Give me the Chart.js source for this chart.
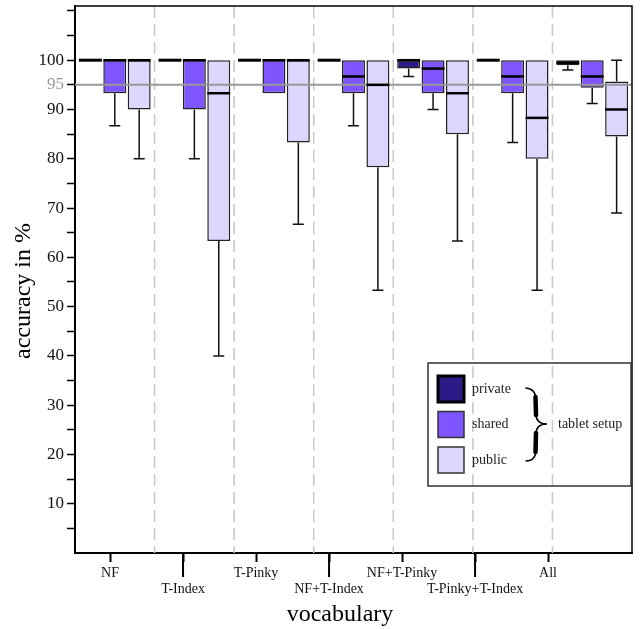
<!DOCTYPE html>
<html>
<head>
<meta charset="utf-8">
<title>accuracy by vocabulary</title>
<script src="https://cdn.jsdelivr.net/npm/chart.js@4.4.1/dist/chart.umd.min.js"></script>
<style>
  html, body { margin: 0; padding: 0; background: #fff; }
  #wrap { width: 641px; height: 629px; }
</style>
</head>
<body>
<div id="wrap"><canvas id="myChart" width="641" height="629"></canvas></div>
<script>
const categories = ["NF", "T-Index", "T-Pinky", "NF+T-Index", "NF+T-Pinky", "T-Pinky+T-Index", "All"];
const setups = ["private", "shared", "public"];
const setupColors = ["#2e1a87", "#7f55ff", "#ddd6ff"];

// box plot values per tablet setup (accuracy in %)
const privateMin = [100, 100, 100, 100, 96.7, 100, 98];
const privateQ1 = [100, 100, 100, 100, 98.3, 100, 99];
const privateMedian = [100, 100, 100, 100, 100, 100, 99.5];
const privateQ3 = [100, 100, 100, 100, 100, 100, 100];
const privateMax = [100, 100, 100, 100, 100, 100, 100];

const sharedMin = [86.7, 80, 93.3, 86.7, 90, 83.3, 91.2];
const sharedQ1 = [93.3, 90, 93.3, 93.3, 93.3, 93.3, 94.4];
const sharedMedian = [100, 100, 100, 96.7, 98.3, 96.7, 96.7];
const sharedQ3 = [100, 100, 100, 100, 100, 100, 100];
const sharedMax = [100, 100, 100, 100, 100, 100, 100];

const publicMin = [80, 40, 66.7, 53.3, 63.3, 53.3, 69];
const publicQ1 = [90, 63.3, 83.3, 78.3, 85, 80, 84.5];
const publicMedian = [100, 93.3, 100, 95, 93.3, 88.3, 90];
const publicQ3 = [100, 100, 100, 100, 100, 100, 95.7];
const publicMax = [100, 100, 100, 100, 100, 100, 100];

const yTickValues = [5, 10, 15, 20, 25, 30, 35, 40, 45, 50, 55, 60, 65, 70, 75, 80, 85, 90, 95, 100, 105, 110];
const yLabelValues = [10, 20, 30, 40, 50, 60, 70, 80, 90, 95, 100];
const refLine = 95;

const stats = [
  { min: privateMin, q1: privateQ1, med: privateMedian, q3: privateQ3, max: privateMax },
  { min: sharedMin, q1: sharedQ1, med: sharedMedian, q3: sharedQ3, max: sharedMax },
  { min: publicMin, q1: publicQ1, med: publicMedian, q3: publicQ3, max: publicMax }
];

const serif = "'Liberation Serif', 'DejaVu Serif', serif";

const boxExtras = {
  id: "boxExtras",
  beforeDatasetsDraw(chart) {
    const { ctx, chartArea: a, scales: { x } } = chart;
    ctx.save();
    ctx.strokeStyle = "#c8c8c8";
    ctx.lineWidth = 1.5;
    ctx.setLineDash([12, 6]);
    for (let i = 1; i < categories.length; i++) {
      const px = (x.getPixelForValue(i - 1) + x.getPixelForValue(i)) / 2;
      ctx.beginPath();
      ctx.moveTo(px, a.top);
      ctx.lineTo(px, a.bottom);
      ctx.stroke();
    }
    ctx.restore();
  },
  afterDatasetsDraw(chart) {
    const { ctx, chartArea: a, scales: { y } } = chart;
    ctx.save();
    // 95% reference line
    ctx.strokeStyle = "#999";
    ctx.lineWidth = 2;
    ctx.beginPath();
    ctx.moveTo(a.left, y.getPixelForValue(refLine));
    ctx.lineTo(a.right, y.getPixelForValue(refLine));
    ctx.stroke();

    // whiskers and medians
    stats.forEach((s, d) => {
      const meta = chart.getDatasetMeta(d);
      meta.data.forEach((bar, i) => {
        const cx = bar.x;
        const half = bar.width / 2;
        ctx.strokeStyle = "#111";
        ctx.lineWidth = 1.5;
        if (s.min[i] < s.q1[i]) {
          const y1 = y.getPixelForValue(s.q1[i]);
          const y2 = y.getPixelForValue(s.min[i]);
          ctx.beginPath();
          ctx.moveTo(cx, y1); ctx.lineTo(cx, y2);
          ctx.moveTo(cx - 5.5, y2); ctx.lineTo(cx + 5.5, y2);
          ctx.stroke();
        }
        if (s.max[i] > s.q3[i]) {
          const y1 = y.getPixelForValue(s.q3[i]);
          const y2 = y.getPixelForValue(s.max[i]);
          ctx.beginPath();
          ctx.moveTo(cx, y1); ctx.lineTo(cx, y2);
          ctx.moveTo(cx - 5.5, y2); ctx.lineTo(cx + 5.5, y2);
          ctx.stroke();
        }
        const collapsed = s.q1[i] === s.q3[i];
        ctx.strokeStyle = "#000";
        ctx.lineWidth = collapsed ? 3 : 2.5;
        const ym = y.getPixelForValue(s.med[i]);
        ctx.beginPath();
        ctx.moveTo(cx - half, ym);
        ctx.lineTo(cx + half, ym);
        ctx.stroke();
      });
    });
    ctx.restore();
  },
  afterDraw(chart) {
    const { ctx, chartArea: a, scales: { xl } } = chart;
    ctx.save();
    // frame top and right
    ctx.strokeStyle = "#000";
    ctx.lineWidth = 1.5;
    ctx.beginPath();
    ctx.moveTo(a.left, a.top);
    ctx.lineTo(a.right, a.top);
    ctx.lineTo(a.right, a.bottom);
    ctx.stroke();

    // longer ticks under the lower labels
    ctx.lineWidth = 2;
    categories.forEach((c, i) => {
      if (i % 2 === 1) {
        const px = xl.getPixelForValue(i);
        ctx.beginPath();
        ctx.moveTo(px, a.bottom);
        ctx.lineTo(px, a.bottom + 24);
        ctx.stroke();
      }
    });

    // legend
    const lx = a.right - 204, ly = a.bottom - 190;
    ctx.strokeStyle = "#333";
    ctx.lineWidth = 1.5;
    ctx.strokeRect(lx, ly, 203, 123);
    ctx.font = "14px " + serif;
    ctx.textBaseline = "middle";
    ctx.textAlign = "left";
    setups.forEach((name, i) => {
      const sy = ly + 13 + i * 35.5;
      ctx.fillStyle = setupColors[i];
      ctx.fillRect(lx + 10, sy, 26, 26);
      ctx.strokeStyle = i === 0 ? "#000" : "#333";
      ctx.lineWidth = i === 0 ? 3 : 1.5;
      ctx.strokeRect(lx + 10, sy, 26, 26);
      ctx.fillStyle = "#222";
      ctx.fillText(name, lx + 44, sy + 13);
    });

    // curly brace grouping the three setups
    const bx = lx + 98, by = ly + 25, mid = ly + 61;
    ctx.strokeStyle = "#000";
    ctx.lineCap = "round";
    ctx.lineWidth = 1.5;
    ctx.beginPath();
    ctx.moveTo(bx, by);
    ctx.quadraticCurveTo(bx + 10, by + 1, bx + 10, by + 12);
    ctx.lineTo(bx + 10, mid - 10);
    ctx.quadraticCurveTo(bx + 10, mid, bx + 21, mid);
    ctx.quadraticCurveTo(bx + 10, mid, bx + 10, mid + 10);
    ctx.lineTo(bx + 10, mid + 25);
    ctx.quadraticCurveTo(bx + 10, mid + 37, bx, mid + 37);
    ctx.stroke();
    ctx.lineWidth = 4.5;
    ctx.beginPath();
    ctx.moveTo(bx + 9.5, by + 9);
    ctx.lineTo(bx + 10, mid - 9);
    ctx.moveTo(bx + 10, mid + 9);
    ctx.lineTo(bx + 9.5, mid + 28);
    ctx.stroke();

    ctx.font = "14px " + serif;
    ctx.textAlign = "left";
    ctx.fillStyle = "#222";
    ctx.fillText("tablet setup", lx + 130, mid);

    // axis titles
    ctx.fillStyle = "#000";
    ctx.font = "24px " + serif;
    ctx.textAlign = "center";
    ctx.textBaseline = "alphabetic";
    ctx.fillText("vocabulary", 340, 621);
    ctx.translate(30, 291);
    ctx.rotate(-Math.PI / 2);
    ctx.fillText("accuracy in %", 0, 0);
    ctx.restore();
  }
};

const datasets = setups.map((name, d) => ({
  label: name,
  data: stats[d].q1.map((q1, i) => [q1, stats[d].q3[i]]),
  backgroundColor: setupColors[d],
  borderColor: "#222",
  borderWidth: 1.5,
  borderSkipped: false,
  categoryPercentage: 0.92,
  barPercentage: 0.94
}));

const config = {
  type: "bar",
  data: { labels: categories, datasets: datasets },
  plugins: [boxExtras],
  options: {
    responsive: false,
    animation: false,
    events: [],
    layout: { padding: { top: 6, right: 9, left: 0, bottom: 0 } },
    plugins: { legend: { display: false }, tooltip: { enabled: false } },
    scales: {
      x: { type: "category", display: false },
      xl: {
        type: "linear",
        position: "bottom",
        offset: false,
        min: -0.48,
        max: 7.15,
        afterBuildTicks: s => { s.ticks = categories.map((c, i) => ({ value: i })); },
        afterFit: s => { s.height = 76; s.paddingLeft = 0; s.paddingRight = 0; },
        grid: { offset: false, drawOnChartArea: false, drawTicks: true, tickLength: 9, tickWidth: 2, tickColor: "#000" },
        border: { display: true, color: "#000", width: 2 },
        ticks: {
          padding: 4,
          autoSkip: false,
          maxRotation: 0,
          color: "#111",
          font: { family: serif, size: 14, lineHeight: 1.1 },
          callback: (v, i) => i % 2 === 1 ? ["", categories[v]] : categories[v]
        }
      },
      y: {
        min: 0,
        max: 111,
        afterBuildTicks: s => { s.ticks = yTickValues.map(v => ({ value: v })); },
        afterFit: s => { s.width = 75; s.paddingTop = 0; s.paddingBottom = 0; },
        grid: { drawOnChartArea: false, tickLength: 8, tickWidth: 1.5, tickColor: "#000" },
        border: { display: true, color: "#000", width: 2 },
        ticks: {
          padding: 3,
          autoSkip: false,
          font: { family: serif, size: 17 },
          color: ctx => ctx.tick.value === refLine ? "#999" : "#111",
          callback: v => yLabelValues.includes(v) ? String(v) : ""
        }
      }
    }
  }
};

const myChart = new Chart(document.getElementById("myChart"), config);
</script>
</body>
</html>
